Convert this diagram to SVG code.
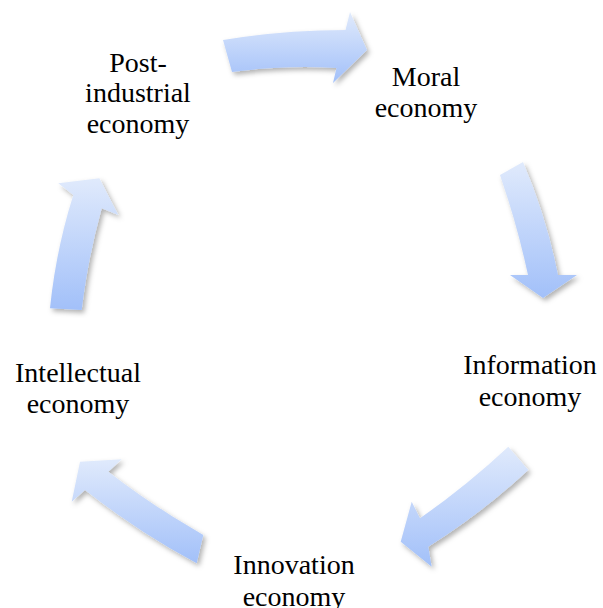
<svg xmlns="http://www.w3.org/2000/svg" width="603" height="608" viewBox="0 0 603 608">
  <defs>
    <linearGradient id="g" x1="0" y1="0" x2="0" y2="1">
      <stop offset="0" stop-color="#e0eafc"/>
      <stop offset="1" stop-color="#a2c0f9"/>
    </linearGradient>
    <filter id="sh" x="-20%" y="-20%" width="140%" height="140%">
      <feDropShadow dx="2.5" dy="3" stdDeviation="2.5" flood-color="#000" flood-opacity="0.3"/>
    </filter>
  </defs>
  <style>
    .arrow { fill: url(#g); filter: url(#sh); }
    .lbl { font-family: "Liberation Serif", "Times New Roman", serif; font-size: 28px; fill: #000; text-anchor: middle; }
  </style>
  <rect width="603" height="608" fill="#fff"/>
  <g id="connectors">
    <path class="arrow" d="M223,40 Q283,30 345.5,30 L350,12 L367,50 L333,83 L336.5,68 Q283.5,65 232,72 Z"/>
    <path class="arrow" d="M500,175 L523,162 Q546.5,217 558,275 L577,275 L543,298 L510,275 L528,275 Q517,224 500,175 Z"/>
    <path class="arrow" d="M508.3,446.7 L528.3,470 Q482.2,512.9 428.3,546.7 L431.7,566.7 L400.7,541.7 L411.7,501.7 L420,518.3 Q466.6,485.7 508.3,446.7 Z"/>
    <path class="arrow" d="M203.3,535 L196.7,563.3 Q137.3,531.5 85,490 L71.7,501.7 L80,461.7 L121.7,459.3 L108.3,471.7 Q153.6,506.6 203.3,535 Z"/>
    <path class="arrow" d="M50,308.3 Q55.8,250.4 73.3,195 L58.3,183.3 L99.4,178.2 L118.3,215 L101.7,208.3 Q87.8,258.4 81.7,310 Z"/>
  </g>
  <g id="node-moral">
    <text class="lbl" x="426" y="85.7">Moral</text>
    <text class="lbl" x="426" y="116.7">economy</text>
  </g>
  <g id="node-information">
    <text class="lbl" x="530" y="374.3">Information</text>
    <text class="lbl" x="530" y="405.7">economy</text>
  </g>
  <g id="node-innovation">
    <text class="lbl" x="294" y="574.3">Innovation</text>
    <text class="lbl" x="294" y="605.7">economy</text>
  </g>
  <g id="node-intellectual">
    <text class="lbl" x="78" y="382.3">Intellectual</text>
    <text class="lbl" x="78" y="413.3">economy</text>
  </g>
  <g id="node-postindustrial">
    <text class="lbl" x="138" y="71.7">Post-</text>
    <text class="lbl" x="138" y="102.2">industrial</text>
    <text class="lbl" x="138" y="132.5">economy</text>
  </g>
</svg>
